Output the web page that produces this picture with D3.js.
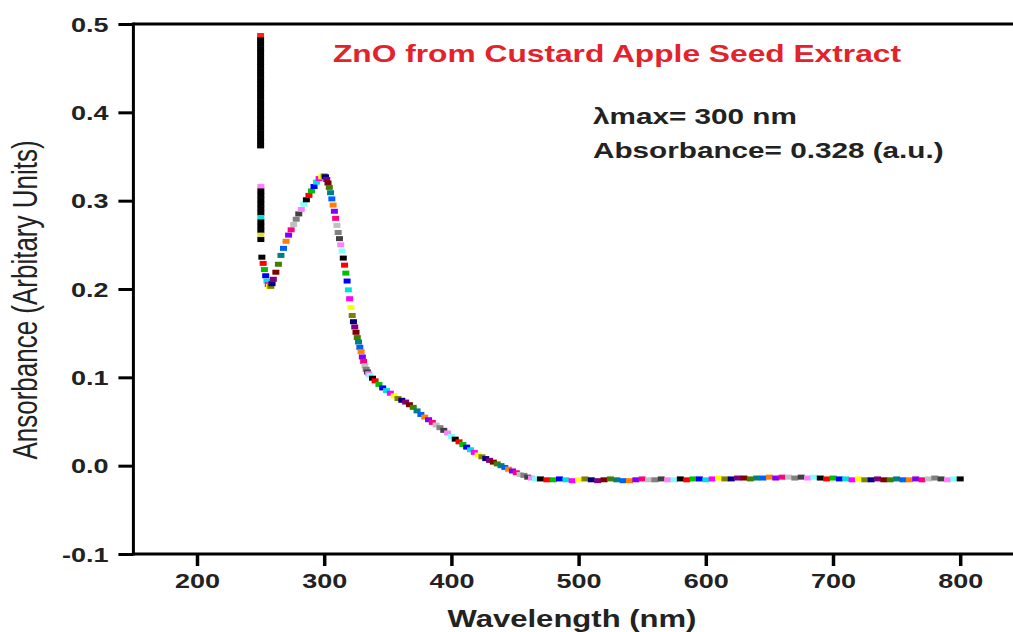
<!DOCTYPE html>
<html>
<head>
<meta charset="utf-8">
<script src="https://cdn.jsdelivr.net/npm/d3@7"></script>
<style>
  body { margin: 0; background: #fff; }
  svg { display: block; }
  text { font-family: "Liberation Sans", Arial, sans-serif; }
</style>
</head>
<body>
<div id="chart"></div>
<script>
// absorbance readings at the 250 nm lamp-change edge
var edgeUpper = [0.487, 0.482, 0.477, 0.472, 0.467, 0.462, 0.457, 0.452, 0.447, 0.442, 0.437, 0.432, 0.427,
                 0.422, 0.417, 0.412, 0.407, 0.402, 0.397, 0.392, 0.387, 0.382, 0.377, 0.372, 0.367, 0.362];
var edgeLower = [0.316, 0.311, 0.306, 0.301, 0.296, 0.291, 0.286, 0.281, 0.276, 0.271, 0.266, 0.261, 0.256];

// main spectrum
var wavelengths = [251, 252, 253, 254, 255, 256, 257, 258, 259, 260, 262, 264, 266, 268, 270, 272, 274, 276, 278, 280,
  282, 284, 286, 288, 290, 292, 294, 296, 298, 300, 301, 302, 303, 304, 305, 306, 307, 308, 309, 310,
  311, 312, 313, 314, 315, 316, 317, 318, 319, 320, 321, 322, 323, 324, 325, 326, 327, 328, 329, 330,
  331, 332, 333, 334, 335, 336, 338, 340, 343, 346, 349, 352, 355, 358, 361, 364, 367, 370, 373, 376,
  379, 382, 385, 388, 391, 394, 397, 400, 403, 406, 409, 412, 415, 418, 421, 424, 427, 430, 433, 436,
  439, 442, 445, 448, 451, 454, 457, 460, 463, 466, 470, 475, 480, 485, 490, 495, 500, 505, 510, 515,
  520, 525, 530, 535, 540, 545, 550, 555, 560, 565, 570, 575, 580, 585, 590, 595, 600, 605, 610, 615,
  620, 625, 630, 635, 640, 645, 650, 655, 660, 665, 670, 675, 680, 685, 690, 695, 700, 705, 710, 715,
  720, 725, 730, 735, 740, 745, 750, 755, 760, 765, 770, 775, 780, 785, 790, 795, 800];
var absorbance = [0.236, 0.229, 0.222, 0.215, 0.209, 0.205, 0.203, 0.203, 0.206, 0.211, 0.219, 0.228, 0.238, 0.246, 0.254, 0.261, 0.267, 0.273, 0.279, 0.285,
  0.290, 0.296, 0.301, 0.306, 0.311, 0.316, 0.321, 0.325, 0.327, 0.328, 0.327, 0.324, 0.320, 0.315, 0.309, 0.302, 0.295, 0.288, 0.280, 0.272,
  0.264, 0.257, 0.250, 0.243, 0.235, 0.227, 0.218, 0.209, 0.199, 0.189, 0.179, 0.170, 0.163, 0.157, 0.151, 0.145, 0.140, 0.134, 0.129, 0.123,
  0.118, 0.113, 0.109, 0.106, 0.104, 0.102, 0.099, 0.096, 0.092, 0.088, 0.085, 0.082, 0.079, 0.076, 0.074, 0.072, 0.069, 0.066, 0.062, 0.058,
  0.055, 0.052, 0.049, 0.046, 0.043, 0.040, 0.037, 0.033, 0.030, 0.027, 0.024, 0.021, 0.018, 0.015, 0.012, 0.010, 0.008, 0.006, 0.004, 0.002,
  0.000, -0.002, -0.004, -0.006, -0.008, -0.010, -0.011, -0.013, -0.014, -0.015, -0.015, -0.016, -0.016, -0.015, -0.016, -0.017, -0.016, -0.015, -0.016, -0.017,
  -0.016, -0.015, -0.016, -0.017, -0.017, -0.016, -0.015, -0.016, -0.016, -0.015, -0.016, -0.016, -0.015, -0.016, -0.015, -0.015, -0.016, -0.015, -0.014, -0.015,
  -0.015, -0.014, -0.014, -0.015, -0.014, -0.014, -0.013, -0.014, -0.013, -0.013, -0.014, -0.013, -0.014, -0.013, -0.014, -0.015, -0.014, -0.015, -0.015, -0.016,
  -0.015, -0.016, -0.016, -0.015, -0.016, -0.016, -0.015, -0.016, -0.016, -0.015, -0.016, -0.015, -0.014, -0.015, -0.016, -0.015, -0.015];

var xMajor = [200, 300, 400, 500, 600, 700, 800];
var xMinor = [150, 250, 350, 450, 550, 650, 750, 850];
var yMajor = [-0.1, 0.0, 0.1, 0.2, 0.3, 0.4, 0.5];
var yMinor = [-0.05, 0.05, 0.15, 0.25, 0.35, 0.45];

var titleText = "ZnO from Custard Apple Seed Extract";
var noteLines = ["\u03bbmax= 300 nm", "Absorbance= 0.328 (a.u.)"];

// origin style colour increment
var cycle = ["#000000", "#ff0000", "#00c000", "#0000ff", "#00e0e0", "#ff00ff", "#ffff00", "#808000",
  "#000080", "#800080", "#800000", "#408000", "#008080", "#0060ff", "#ff8000", "#8000ff",
  "#ff0080", "#c0c0c0", "#808080", "#404040", "#ff80ff", "#80ffff"];

var width = 1013, height = 632;
var sx = 1.35; // picture is stretched sideways

var svg = d3.select("#chart").append("svg")
  .attr("width", width)
  .attr("height", height);

var x = d3.scaleLinear().domain([150, 850]).range([133.4, 1023.8]);
var y = d3.scaleLinear().domain([-0.1, 0.5]).range([554, 24]);

// top frame line
svg.append("line")
  .attr("x1", x(150)).attr("x2", width + 5)
  .attr("y1", y(0.5)).attr("y2", y(0.5))
  .attr("stroke", "#000").attr("stroke-width", 3);

// x axis
var gx = svg.append("g").attr("transform", "translate(0," + y(-0.1) + ")");
gx.call(d3.axisBottom(x).tickValues(xMinor).tickSize(6).tickFormat("").tickSizeOuter(0));
gx.call(d3.axisBottom(x).tickValues(xMajor).tickSize(12).tickSizeOuter(0).tickFormat(d3.format("d")));
gx.selectAll(".domain").attr("stroke-width", 3).attr("d", "M" + x(150) + ",0H" + (width + 5));
gx.selectAll(".tick line").attr("stroke-width", 3.5);
gx.selectAll(".tick text")
  .attr("y", 34).attr("dy", 0)
  .attr("transform", "scale(" + sx + ",1)")
  .style("font-size", "20px").style("font-weight", "bold").attr("fill", "#222");

// y axis
var gy = svg.append("g").attr("transform", "translate(" + x(150) + ",0)");
gy.call(d3.axisLeft(y).tickValues(yMinor).tickSize(8).tickFormat("").tickSizeOuter(0));
gy.call(d3.axisLeft(y).tickValues(yMajor).tickSize(15).tickSizeOuter(0)
  .tickFormat(function(d) { return d.toFixed(1).replace("\u2212", "-"); }));
gy.selectAll(".domain").attr("stroke-width", 3).attr("d", "M0," + (y(-0.1) + 1.5) + "V" + (y(0.5) - 1.5));
gy.selectAll(".tick line").attr("stroke-width", 3);
gy.selectAll(".tick text")
  .attr("x", -25 / sx).attr("dy", "0.36em")
  .attr("transform", "scale(" + sx + ",1)")
  .style("font-size", "20px").style("font-weight", "bold").attr("fill", "#222");

// data markers
var pts = [];
edgeUpper.forEach(function(v, i) { pts.push({ w: 250, a: v, c: i === 0 ? "#ff2020" : "#000" }); });
edgeLower.forEach(function(v, i) {
  pts.push({ w: 250.2, a: v, c: i === 0 ? "#ff80ff" : (i === 7 ? "#00e0e0" : (i === 11 ? "#e0e040" : "#000")) });
});
wavelengths.forEach(function(w, i) { pts.push({ w: w, a: absorbance[i], c: cycle[i % cycle.length] }); });

svg.append("g").selectAll("rect")
  .data(pts)
  .enter().append("rect")
    .attr("x", function(d) { return x(d.w) - 3.5; })
    .attr("y", function(d) { return y(d.a) - 2.5; })
    .attr("width", 7)
    .attr("height", 5)
    .attr("fill", function(d) { return d.c; });

// texts, stretched sideways like the picture
function stretched(tx, ty, str, size, weight, colour, anchor) {
  return svg.append("text")
    .attr("transform", "translate(" + tx + "," + ty + ") scale(" + sx + ",1)")
    .attr("text-anchor", anchor || "start")
    .style("font-size", size + "px")
    .style("font-weight", weight)
    .attr("fill", colour)
    .text(str);
}

stretched(333, 62, titleText, 23.5, "bold", "#e3222b");
stretched(593, 124, noteLines[0], 22, "bold", "#222");
stretched(593, 158, noteLines[1], 22, "bold", "#222");
stretched(572, 627, "Wavelength (nm)", 23, "bold", "#222", "middle");

svg.append("text")
  .attr("transform", "translate(37,300) scale(" + sx + ",1) rotate(-90)")
  .attr("text-anchor", "middle")
  .style("font-size", "26px")
  .attr("fill", "#222")
  .text("Ansorbance (Arbitary Units)");
</script>
</body>
</html>
